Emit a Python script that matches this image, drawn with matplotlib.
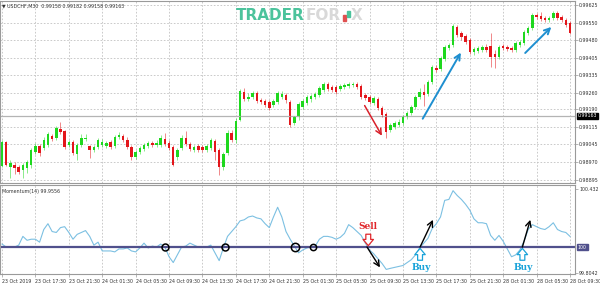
import numpy as np
import matplotlib
matplotlib.use("Agg")
import matplotlib.pyplot as plt
from matplotlib import font_manager
from matplotlib.patches import Rectangle

# USDCHF M30 candles, prices in points (x 1e-5)
opens = [98954, 99054, 98949, 98958, 98949, 98937, 98945, 98958, 99012, 99037,
         99029, 99041, 99079, 99070, 99108, 99100, 99041, 99054, 99004, 99041,
         99066, 99037, 99020, 99033, 99041, 99037, 99054, 99037, 99075, 99079,
         99062, 99033, 98991, 99012, 99025, 99037, 99050, 99041, 99041, 99066,
         99050, 99033, 98991, 99029, 99070, 99045, 99020, 99037, 99033, 99020,
         99029, 99058, 99020, 98949, 99008, 99091, 99062, 99146, 99262, 99233,
         99241, 99258, 99229, 99225, 99221, 99208, 99221, 99241, 99250, 99221,
         99133, 99158, 99200, 99216, 99233, 99241, 99250, 99271, 99296, 99283,
         99283, 99275, 99283, 99287, 99291, 99296, 99287, 99250, 99241, 99216,
         99233, 99196, 99171, 99104, 99116, 99125, 99133, 99158, 99175, 99200,
         99241, 99262, 99254, 99304, 99362, 99358, 99400, 99446, 99458, 99533,
         99508, 99496, 99479, 99429, 99433, 99437, 99450, 99454, 99421, 99408,
         99454, 99450, 99446, 99437, 99458, 99467, 99508, 99529, 99583, 99579,
         99571, 99563, 99571, 99592, 99575, 99563, 99550]
closes = [99054, 98958, 98966, 98945, 98929, 98958, 98970, 99020, 99037, 99008,
          99062, 99087, 99066, 99112, 99095, 99033, 99054, 99008, 99041, 99070,
          99070, 99020, 99033, 99062, 99054, 99050, 99033, 99075, 99083, 99062,
          99033, 98991, 99012, 99029, 99041, 99050, 99041, 99050, 99070, 99045,
          99029, 98958, 99020, 99070, 99045, 99025, 99033, 99020, 99020, 99037,
          99062, 99012, 98949, 99004, 99091, 99062, 99141, 99266, 99233, 99241,
          99258, 99225, 99221, 99208, 99196, 99225, 99258, 99254, 99229, 99125,
          99158, 99212, 99225, 99241, 99246, 99254, 99279, 99296, 99275, 99271,
          99262, 99287, 99291, 99296, 99296, 99283, 99241, 99237, 99221, 99237,
          99196, 99166, 99095, 99125, 99133, 99137, 99158, 99175, 99200, 99241,
          99262, 99250, 99304, 99367, 99354, 99404, 99450, 99458, 99538, 99500,
          99492, 99471, 99429, 99442, 99446, 99450, 99437, 99408, 99408, 99450,
          99446, 99442, 99437, 99467, 99471, 99513, 99529, 99583, 99575, 99567,
          99563, 99571, 99592, 99571, 99563, 99542, 99508]
highs = [99062, 99058, 98979, 98970, 98958, 98966, 98979, 99029, 99050, 99045,
         99075, 99095, 99087, 99120, 99137, 99104, 99062, 99062, 99050, 99087,
         99087, 99041, 99041, 99070, 99066, 99058, 99062, 99083, 99095, 99087,
         99075, 99041, 99020, 99037, 99050, 99058, 99058, 99062, 99083, 99091,
         99062, 99041, 99029, 99083, 99100, 99054, 99041, 99045, 99041, 99045,
         99070, 99066, 99029, 99012, 99104, 99104, 99154, 99275, 99279, 99258,
         99266, 99266, 99237, 99233, 99229, 99233, 99266, 99266, 99258, 99229,
         99162, 99221, 99233, 99250, 99254, 99262, 99287, 99304, 99304, 99291,
         99291, 99296, 99300, 99304, 99304, 99304, 99296, 99258, 99250, 99246,
         99241, 99204, 99179, 99133, 99141, 99150, 99166, 99183, 99208, 99250,
         99279, 99296, 99312, 99375, 99375, 99412, 99458, 99467, 99546, 99542,
         99517, 99504, 99488, 99450, 99454, 99458, 99462, 99508, 99437, 99458,
         99462, 99458, 99454, 99475, 99479, 99521, 99538, 99592, 99592, 99596,
         99579, 99579, 99600, 99600, 99583, 99571, 99558]
lows = [98949, 98954, 98904, 98920, 98920, 98904, 98924, 98945, 99004, 98995,
        99020, 99033, 99058, 99062, 99087, 99025, 99033, 99000, 98979, 99033,
        99058, 98987, 99012, 99025, 99033, 99029, 99025, 99029, 99066, 99054,
        99025, 98979, 98983, 99004, 99016, 99029, 99033, 99033, 99033, 99037,
        99020, 98954, 98979, 99020, 99037, 99016, 99012, 99012, 99012, 99012,
        99020, 98979, 98916, 98937, 99000, 99054, 99050, 99141, 99225, 99225,
        99233, 99216, 99212, 99200, 99187, 99200, 99212, 99233, 99216, 99116,
        99125, 99146, 99191, 99208, 99221, 99233, 99241, 99262, 99266, 99262,
        99254, 99266, 99275, 99279, 99283, 99275, 99233, 99229, 99212, 99208,
        99187, 99158, 99070, 99095, 99108, 99116, 99125, 99150, 99166, 99191,
        99233, 99204, 99246, 99296, 99346, 99350, 99392, 99437, 99450, 99492,
        99479, 99462, 99421, 99417, 99425, 99429, 99429, 99367, 99362, 99400,
        99437, 99433, 99429, 99429, 99450, 99458, 99500, 99521, 99567, 99558,
        99554, 99554, 99563, 99563, 99554, 99533, 99504]

# Momentum(14)
momentum = [100.022, 100.000, 100.000, 100.000, 100.014, 100.079, 100.050, 100.058, 100.058, 100.036,
            100.130, 100.173, 100.115, 100.108, 100.144, 100.151, 100.108, 100.058, 100.094, 100.108,
            100.122, 100.079, 100.014, 100.036, 99.971, 99.971, 99.971, 99.964, 99.986, 99.986,
            99.993, 99.971, 99.964, 99.993, 100.029, 99.993, 100.007, 100.000, 100.022, 100.000,
            99.928, 99.885, 99.942, 100.000, 100.007, 100.029, 100.014, 100.000, 100.000, 100.000,
            100.014, 99.957, 99.899, 99.993, 100.079, 100.115, 100.151, 100.194, 100.202, 100.223,
            100.230, 100.216, 100.209, 100.173, 100.144, 100.223, 100.295, 100.223, 100.115, 100.058,
            100.007, 99.957, 99.978, 99.993, 100.000, 100.007, 100.058, 100.079, 100.079, 100.072,
            100.058, 100.072, 100.101, 100.166, 100.144, 100.115, 100.086, 100.029, 99.978, 99.950,
            99.914, 99.878, 99.834, 99.842, 99.849, 99.856, 99.863, 99.885, 99.906, 99.942,
            99.993, 100.029, 100.065, 100.137, 100.173, 100.223, 100.346, 100.353, 100.418, 100.382,
            100.353, 100.317, 100.274, 100.209, 100.180, 100.180, 100.173, 100.086, 100.050, 100.086,
            100.043, 99.986, 99.928, 99.942, 99.978, 100.043, 100.130, 100.166, 100.151, 100.137,
            100.130, 100.151, 100.180, 100.130, 100.115, 100.108, 100.079]

time_labels = ["23 Oct 2019", "23 Oct 17:30", "23 Oct 21:30", "24 Oct 01:30", "24 Oct 05:30",
               "24 Oct 09:30", "24 Oct 13:30", "24 Oct 17:30", "24 Oct 21:30", "25 Oct 01:30",
               "25 Oct 05:30", "25 Oct 09:30", "25 Oct 13:30", "25 Oct 17:30", "25 Oct 21:30",
               "28 Oct 01:30", "28 Oct 05:30", "28 Oct 09:30"]
price_ticks = [0.99625, 0.99550, 0.99480, 0.99405, 0.99335, 0.99260, 0.99190,
               0.99115, 0.99045, 0.98970, 0.98895]
last_price = 0.99163
mom_ticks = [100.432, 99.8042]

o = np.array(opens) / 1e5
c = np.array(closes) / 1e5
h = np.array(highs) / 1e5
l = np.array(lows) / 1e5
x = np.arange(len(o))
up = c >= o

installed = {f.name for f in font_manager.fontManager.ttflist}
SMALL = "Liberation Sans Narrow" if "Liberation Sans Narrow" in installed else "DejaVu Sans"
SMALL_FS = 4.3 if SMALL != "DejaVu Sans" else 3.4

GREEN = "#1ed81e"
RED = "#e3161b"
GRID = "#c2c2c2"
FRAME = "#9a9a9a"

fig = plt.figure(figsize=(6, 2.88), dpi=100)
ax = fig.add_axes([0.0, 1 - 183 / 288, 575 / 600, 182 / 288])
ax2 = fig.add_axes([0.0, 1 - 274 / 288, 575 / 600, 89 / 288])

xlim = (-0.48, 137.2)
for a in (ax, ax2):
    a.set_xlim(*xlim)
    a.set_xticks(np.arange(0, len(o), 8))
    a.grid(axis="x", color=GRID, linestyle=(0, (2, 2)), lw=0.6)
    for s in a.spines.values():
        s.set_color(FRAME)
        s.set_linewidth(0.8)
    a.yaxis.tick_right()
    a.tick_params(axis="y", labelsize=SMALL_FS, length=2, width=0.5, color=FRAME,
                  pad=1, labelcolor="#333333")
    a.set_axisbelow(True)

# price panel
ax.set_ylim(0.98883, 0.99642)
ax.set_yticks(price_ticks)
ax.set_yticklabels([f"{v:.5f}" for v in price_ticks], family=SMALL)
ax.grid(axis="y", color=GRID, linestyle=(0, (2, 2)), lw=0.6)
ax.tick_params(axis="x", labelbottom=False, length=0)
ax.axhline(last_price, color="#b4b4b4", lw=0.9)

ax.vlines(x[up], l[up], h[up], color=GREEN, lw=0.6, alpha=0.6)
ax.vlines(x[~up], l[~up], h[~up], color=RED, lw=0.6, alpha=0.6)
body = np.maximum(np.abs(c - o), 0.000015)
ax.bar(x[up], body[up], bottom=np.minimum(o, c)[up], width=0.6, color=GREEN, lw=0)
ax.bar(x[~up], body[~up], bottom=np.minimum(o, c)[~up], width=0.6, color=RED, lw=0)

ax.text(1.005, last_price, f"{last_price:.5f}", transform=ax.get_yaxis_transform(),
        fontsize=SMALL_FS, family=SMALL, color="white", va="center", ha="left",
        bbox=dict(boxstyle="square,pad=0.15", fc="black", ec="black"))
ax.text(0.004, 0.985, "\u25bc USDCHF,M30  0.99158 0.99182 0.99158 0.99163",
        transform=ax.transAxes, fontsize=SMALL_FS, family=[SMALL, "DejaVu Sans"],
        color="#333333", va="top", ha="left")

# trend arrows
ax.annotate("", xy=(91.3, 0.99070), xytext=(86.5, 0.99216),
            arrowprops=dict(arrowstyle="->", color="#d8202a", lw=1.1))
ax.annotate("", xy=(110.2, 0.99437), xytext=(100.4, 0.99141),
            arrowprops=dict(arrowstyle="->", color="#1e8fd0", lw=1.4))
ax.annotate("", xy=(132.0, 0.99542), xytext=(124.8, 0.99417),
            arrowprops=dict(arrowstyle="->", color="#1e8fd0", lw=1.4))

# watermark: TRADER FOR(candles)X
renderer = fig.canvas.get_renderer()
wy = 1 - 16 / 288
wm = dict(fontsize=11, fontweight="bold", va="center", ha="left")
t1 = fig.text(236 / 600, wy, "TRADER", color="#4cc39c", **wm)
x1 = t1.get_window_extent(renderer).x1
t2 = fig.text(x1 / 600 + 0.002, wy, "FOR", color="#d9d9d9", **wm)
x2 = t2.get_window_extent(renderer).x1
fig.add_artist(Rectangle(((x2 + 2) / 600, 1 - 21 / 288), 2.5 / 600, 6 / 288,
                         transform=fig.transFigure, color="#e05050"))
fig.add_artist(Rectangle(((x2 + 6) / 600, 1 - 17 / 288), 2.5 / 600, 6 / 288,
                         transform=fig.transFigure, color="#4cc39c"))
fig.text((x2 + 10) / 600, wy, "X", color="#d9d9d9", **wm)

# momentum panel
ax2.set_ylim(99.80, 100.46)
ax2.set_yticks(mom_ticks)
ax2.set_yticklabels(["100.432", "99.8042"], family=SMALL)
ax2.plot(x, momentum, color="#7cc0e2", lw=0.8)
ax2.axhline(100, color="#50508c", lw=1.6)
ax2.text(1.005, 100, "100", transform=ax2.get_yaxis_transform(), fontsize=SMALL_FS,
         family=SMALL, color="white", va="center", ha="left",
         bbox=dict(boxstyle="square,pad=0.15", fc="#50508c", ec="#50508c"))
ax2.text(0.004, 0.96, "Momentum(14) 99.9556", transform=ax2.transAxes,
         fontsize=SMALL_FS, family=SMALL, color="#333333", va="top", ha="left")
ax2.set_xticklabels(time_labels, family=SMALL)
ax2.tick_params(axis="x", labelsize=SMALL_FS, length=2, width=0.5, color=FRAME,
                pad=1.5, labelcolor="#333333")
for lab in ax2.get_xticklabels():
    lab.set_ha("left")

# crossings of the 100 level
for bx, ms in ((39, 5), (53.4, 5), (70.2, 6), (74.5, 4.5)):
    ax2.plot(bx, 100, "o", ms=ms, mfc="none", mec="black", mew=1.1)

# signals
hollow = "simple,head_width=0.75,head_length=0.45,tail_width=0.35"
ax2.text(87.7, 100.151, "Sell", fontsize=6.5, fontweight="bold", family="DejaVu Serif",
         color="#e0262b", ha="center", va="center")
ax2.annotate("", xy=(87.7, 100.01), xytext=(87.7, 100.095),
             arrowprops=dict(arrowstyle=hollow, fc="white", ec="#e0262b", lw=0.9,
                             shrinkA=0, shrinkB=0))
ax2.annotate("", xy=(90.5, 99.849), xytext=(87.4, 100.0),
             arrowprops=dict(arrowstyle="->", color="black", lw=1.0, shrinkA=0, shrinkB=0))
for bx, tip in ((100.1, 103.2), (124.6, 126.5)):
    ax2.text(bx + 0.3, 99.845, "Buy", fontsize=6.5, fontweight="bold", family="DejaVu Serif",
             color="#1aa3d9", ha="center", va="center")
    ax2.annotate("", xy=(bx, 99.99), xytext=(bx, 99.902),
                 arrowprops=dict(arrowstyle=hollow, fc="white", ec="#1aa3d9", lw=0.9,
                                 shrinkA=0, shrinkB=0))
    ax2.annotate("", xy=(tip, 100.202), xytext=(bx, 100.0),
                 arrowprops=dict(arrowstyle="->", color="black", lw=1.0, shrinkA=0, shrinkB=0))

fig.savefig("out.png", dpi=100, facecolor="white")
